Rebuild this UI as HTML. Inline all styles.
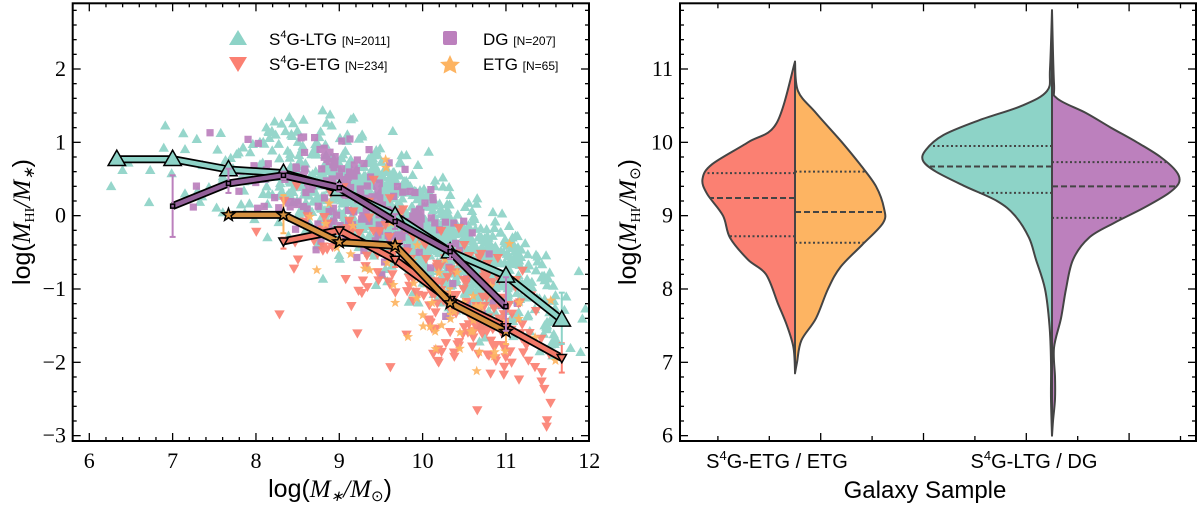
<!DOCTYPE html>
<html><head><meta charset="utf-8">
<style>
html,body{margin:0;padding:0;background:#fff;}
svg{display:block;}
.serif{font-family:"Liberation Serif",serif;}
.sans{font-family:"Liberation Sans",sans-serif;}
</style></head>
<body>
<svg id="fig" width="1200" height="507" viewBox="0 0 1200 507" xmlns="http://www.w3.org/2000/svg">
  <g id="left"></g>
  <g id="right"></g>
</svg>
<script>
// ---------- Left panel data ----------
const binX = [6.33, 7.0, 7.67, 8.33, 9.0, 9.67, 10.33, 11.0, 11.67];
const ltgMed = [0.77, 0.77, 0.63, 0.58, 0.36, 0.0, -0.49, -0.82, -1.42];
const ltgErrLo = [0.03, 0.03, 0.04, 0.04, 0.04, 0.05, 0.05, 0.06, 0.33];
const ltgErrHi = [0.03, 0.03, 0.04, 0.04, 0.04, 0.05, 0.05, 0.06, 0.37];
const dgMed = [null, 0.13, 0.44, 0.55, 0.38, -0.08, -0.49, -1.24, null];
const dgErrLo = [0, 0.42, 0.13, 0.05, 0.05, 0.1, 0.1, 0.33, 0];
const dgErrHi = [0, 0.42, 0.2, 0.05, 0.05, 0.1, 0.1, 0.4, 0];
const etgMed = [null, null, 0.01, 0.01, -0.36, -0.41, -1.19, -1.58, null];
const etgErrLo = [0, 0, 0.04, 0.25, 0.05, 0.06, 0.15, 0.17, 0];
const etgErrHi = [0, 0, 0.04, 0.27, 0.05, 0.06, 0.2, 0.15, 0];
const s4eMed = [null, null, null, -0.35, -0.2, -0.6, -1.15, -1.52, -1.94];
const s4eErrLo = [0, 0, 0, 0.1, 0.05, 0.1, 0.06, 0.06, 0.2];
const s4eErrHi = [0, 0, 0, 0.05, 0.05, 0.1, 0.06, 0.06, 0.2];

// scatter density per stellar-mass bin
const scatX = [6.2, 6.6, 7.0, 7.4, 7.8, 8.2, 8.6, 9.0, 9.4, 9.8, 10.2, 10.6, 11.0, 11.4, 11.8];
const ltgCounts = [2, 3, 6, 10, 22, 40, 85, 130, 160, 180, 190, 175, 120, 55, 8];
const dgCounts = [0, 0, 0, 3, 6, 12, 30, 45, 45, 30, 15, 8, 4, 0, 0];
const s4eCounts = [0, 0, 0, 0, 0, 3, 8, 15, 20, 30, 45, 55, 45, 15, 0];
const etgCounts = [0, 0, 0, 0, 0, 0, 3, 5, 6, 10, 14, 14, 9, 4, 0];

// ---------- Right panel data ----------
const violinCats = ["S⁴G-ETG / ETG", "S⁴G-LTG / DG"];
const redV = [11.1, 10.26, 10.0, 9.7, 9.5, 9.3, 9.0, 8.7, 8.4, 8.2, 7.8, 7.5, 7.2, 6.88];
const redW = [0, 18.5, 47, 83, 92.5, 88, 72, 65, 47, 29, 17, 8, 1.5, 0];
const orgV = [11.1, 10.7, 10.4, 10.0, 9.7, 9.4, 9.1, 8.9, 8.6, 8.3, 8.0, 7.6, 7.3, 7.0, 6.85];
const orgW = [0, 3, 21, 47, 65, 81, 89, 88, 67, 45.5, 33, 21, 6.4, 2, 0];
const tealV = [11.8, 11.0, 10.7, 10.5, 10.3, 10.1, 9.9, 9.75, 9.6, 9.4, 9.2, 9.0, 8.7, 8.4, 8.0, 7.5, 7.0, 6.5, 6.0];
const tealW = [0, 2, 5, 30, 73, 108.5, 126, 129, 116, 87, 55, 37, 23, 16, 7, 2.5, 1, 1, 0];
const purpV = [11.8, 10.8, 10.6, 10.4, 10.2, 10.0, 9.8, 9.6, 9.45, 9.3, 9.1, 8.9, 8.7, 8.4, 8.0, 7.6, 7.2, 6.8, 6.5, 6.2, 6.0];
const purpW = [0, 2, 5, 34, 59, 85, 108.5, 124.5, 127, 116, 91, 62, 37, 21, 14, 9, 2, 3, 3, 1, 0];
const redQ = [8.72, 9.24, 9.58];
const orgQ = [8.63, 9.05, 9.6];
const tealQ = [9.31, 9.67, 9.95];
const purpQ = [8.97, 9.40, 9.73];

const C = {teal:'#8dd3c7', red:'#fb8072', purp:'#bc80bd', org:'#fdb462'};
const NS = 'http://www.w3.org/2000/svg';
function mk(tag, attrs, parent){const e=document.createElementNS(NS,tag);for(const k in attrs)e.setAttribute(k,attrs[k]);parent.appendChild(e);return e;}

// ---------- LEFT ----------
const L = document.getElementById('left');
const xL = v => 89.3 + (v - 6) * 83.33;
const yL = v => 69 + (2 - v) * 73.33;
const LB = {x0:72.7, x1:589, y0:3.3, y1:441};

let seed = 12345;
function rnd(){seed = (seed * 1103515245 + 12345) % 2147483648; return seed / 2147483648;}
function gauss(){let u=rnd()||1e-6, v=rnd(); return Math.sqrt(-2*Math.log(u))*Math.cos(2*Math.PI*v);}
function interpMed(arr, x){
  const pts = []; for(let i=0;i<binX.length;i++) if(arr[i]!==null) pts.push([binX[i],arr[i]]);
  if(x<=pts[0][0]) return pts[0][1] + (x-pts[0][0])*(-0.2);
  if(x>=pts[pts.length-1][0]){const a=pts[pts.length-2],b=pts[pts.length-1];return b[1]+(x-b[0])*(b[1]-a[1])/(b[0]-a[0]);}
  for(let i=0;i<pts.length-1;i++){const a=pts[i],b=pts[i+1];if(x>=a[0]&&x<=b[0])return a[1]+(x-a[0])*(b[1]-a[1])/(b[0]-a[0]);}
}
function markerPath(type, cx, cy, s){
  if(type==='up'){return `M${cx},${cy-s*0.6} L${cx+s*0.58},${cy+s*0.42} L${cx-s*0.58},${cy+s*0.42}Z`;}
  if(type==='down'){return `M${cx},${cy+s*0.6} L${cx+s*0.58},${cy-s*0.42} L${cx-s*0.58},${cy-s*0.42}Z`;}
  if(type==='sq'){const h=s*0.4;return `M${cx-h},${cy-h} h${2*h} v${2*h} h${-2*h}Z`;}
  if(type==='star'){let d='';for(let i=0;i<10;i++){const r=i%2?s*0.25:s*0.6;const a=-Math.PI/2+i*Math.PI/5;d+=(i?'L':'M')+(cx+r*Math.cos(a)).toFixed(1)+','+(cy+r*Math.sin(a)).toFixed(1);}return d+'Z';}
}
const clip = mk('clipPath',{id:'lclip'},L);
mk('rect',{x:LB.x0,y:LB.y0,width:LB.x1-LB.x0,height:LB.y1-LB.y0},clip);
const scat = mk('g',{'clip-path':'url(#lclip)'},L);


function cloud(counts, med, sd, type, color, name){
  const g = mk('g',{fill:color,opacity:'0.92'},scat);
  
  
  let d='';
  for(let i=0;i<scatX.length;i++){
    for(let k=0;k<counts[i];k++){
      const x = scatX[i] + (rnd()-0.5)*0.4;
      const y = interpMed(med, x) + gauss()*sd;
      d += markerPath(type, xL(x), yL(y), 9);
    }
  }
  mk('path',{d:d},g);
}
cloud(ltgCounts, ltgMed, 0.37, 'up', C.teal, 'ltg-scatter');
cloud(dgCounts, dgMed, 0.35, 'sq', C.purp, 'dg-scatter');
cloud(s4eCounts, s4eMed, 0.45, 'down', C.red, 's4g-etg-scatter');
cloud(etgCounts, etgMed, 0.45, 'star', C.org, 'etg-scatter');

function medianLine(med, lo, hi, color, lineColor, type, name, msize){
  const g = mk('g',{},L);
  
  
  const pts=[]; for(let i=0;i<binX.length;i++) if(med[i]!==null) pts.push([xL(binX[i]), yL(med[i]), i]);
  const pstr = pts.map(p=>p[0].toFixed(1)+','+p[1].toFixed(1)).join(' ');
  mk('polyline',{points:pstr,fill:'none',stroke:'#000','stroke-width':8,'stroke-linejoin':'round'},g);
  mk('polyline',{points:pstr,fill:'none',stroke:lineColor,'stroke-width':4.5,'stroke-linejoin':'round'},g);
  pts.forEach(p=>{
    const i=p[2];
    const y1=yL(med[i]+hi[i]), y2=yL(med[i]-lo[i]);
    mk('line',{x1:p[0],x2:p[0],y1:y1,y2:y2,stroke:color,'stroke-width':2},g);
    mk('line',{x1:p[0]-3,x2:p[0]+3,y1:y1,y2:y1,stroke:color,'stroke-width':2},g);
    mk('line',{x1:p[0]-3,x2:p[0]+3,y1:y2,y2:y2,stroke:color,'stroke-width':2},g);
    mk('path',{d:markerPath(type,p[0],p[1],msize),fill:lineColor,stroke:'#000','stroke-width':1.5},g);
  });
}
medianLine(s4eMed, s4eErrLo, s4eErrHi, C.red, '#f07868', 'down', 's4g-etg-median-line', 8);
medianLine(etgMed, etgErrLo, etgErrHi, C.org, '#d69140', 'star', 'etg-median-line', 11);
medianLine(ltgMed, ltgErrLo, ltgErrHi, C.teal, C.teal, 'up', 'ltg-median-line', 15);
medianLine(dgMed, dgErrLo, dgErrHi, C.purp, '#93609a', 'sq', 'dg-median-line', 5);

function frame(parent, B, name){
  const r = mk('rect',{x:B.x0,y:B.y0,width:B.x1-B.x0,height:B.y1-B.y0,fill:'none',stroke:'#000','stroke-width':2},parent);
  
  
}
frame(L, LB, 'left-axes-frame');
const lt = mk('g',{stroke:'#000','stroke-width':1.3},L);


for(let k=0;k<=30;k++){const v=6+k*0.2;const x=xL(v);const len=(k%5===0)?8:4;
  mk('line',{x1:x,x2:x,y1:LB.y1,y2:LB.y1-len},lt);mk('line',{x1:x,x2:x,y1:LB.y0,y2:LB.y0+len},lt);}
for(let k=-16;k<=14;k++){const v=k*0.2;const y=yL(v);if(y<LB.y0||y>LB.y1)continue;const len=(k%5===0)?8:4;
  mk('line',{x1:LB.x0,x2:LB.x0+len,y1:y,y2:y},lt);mk('line',{x1:LB.x1,x2:LB.x1-len,y1:y,y2:y},lt);}
const xTicksL = [6,7,8,9,10,11,12];
const yTicksL = [-3,-2,-1,0,1,2];
xTicksL.forEach(v=>{const t=mk('text',{x:xL(v),y:468,'text-anchor':'middle','font-size':22,class:'serif'},L);t.textContent=v;
  });
yTicksL.forEach(v=>{const t=mk('text',{x:66,y:yL(v)+7,'text-anchor':'end','font-size':22,class:'serif'},L);t.textContent=(v<0?'−':'')+Math.abs(v);
  });

// ---------- RIGHT ----------
const R = document.getElementById('right');
const yR = v => 69 + (11 - v) * 73.33;
const xR = c => 795 + c * 257;
const RB = {x0:680, x1:1196, y0:3.3, y1:441};

function smoothPath(pts){
  let d = 'M'+pts[0][0].toFixed(1)+','+pts[0][1].toFixed(1);
  for(let i=0;i<pts.length-1;i++){
    const p0=pts[Math.max(0,i-1)],p1=pts[i],p2=pts[i+1],p3=pts[Math.min(pts.length-1,i+2)];
    const c1=[p1[0]+(p2[0]-p0[0])/6,p1[1]+(p2[1]-p0[1])/6];
    const c2=[p2[0]-(p3[0]-p1[0])/6,p2[1]-(p3[1]-p1[1])/6];
    d+=` C${c1[0].toFixed(1)},${c1[1].toFixed(1)} ${c2[0].toFixed(1)},${c2[1].toFixed(1)} ${p2[0].toFixed(1)},${p2[1].toFixed(1)}`;
  }
  return d;
}
function widthAt(vals, ws, v){
  for(let i=0;i<vals.length-1;i++){const a=vals[i],b=vals[i+1];if((v<=a&&v>=b)){const t=(a-v)/(a-b);return ws[i]+t*(ws[i+1]-ws[i]);}}
  return 0;
}
function half(cat, vals, ws, side, color, q, name){
  const g = mk('g',{},R);
  
  
  const cx = xR(cat);
  const pts = vals.map((v,i)=>[cx + side*ws[i], yR(v)]);
  const d = smoothPath(pts) + ` L${cx},${yR(vals[vals.length-1])} L${cx},${yR(vals[0])}Z`;
  mk('path',{d:d,fill:color,stroke:'#444','stroke-width':2,'stroke-linejoin':'round'},g);
  q.forEach((v,i)=>{
    const w = widthAt(vals, ws, v);
    mk('line',{x1:cx,x2:cx+side*w,y1:yR(v),y2:yR(v),stroke:'#444','stroke-width':2,
      'stroke-dasharray': i===1 ? '6,3' : '2,2.5'},g);
  });
  mk('line',{x1:cx,x2:cx,y1:yR(vals[0]),y2:yR(vals[vals.length-1]),stroke:'#444','stroke-width':2},g);
}
half(0, redV, redW, -1, C.red, redQ, 'violin-s4g-etg');
half(0, orgV, orgW, 1, C.org, orgQ, 'violin-etg');
half(1, tealV, tealW, -1, C.teal, tealQ, 'violin-s4g-ltg');
half(1, purpV, purpW, 1, C.purp, purpQ, 'violin-dg');

frame(R, RB, 'right-axes-frame');
const rt = mk('g',{stroke:'#000','stroke-width':1.3},R);


for(let k=-3;k<=15;k+=2){const c=k*0.1;const x=xR(c);const len=((k+1)%4===2)?8:5;
  mk('line',{x1:x,x2:x,y1:RB.y1,y2:RB.y1-len},rt);mk('line',{x1:x,x2:x,y1:RB.y0,y2:RB.y0+len},rt);}
for(let k=29;k<=60;k++){const v=k*0.2;const y=yR(v);if(y<RB.y0||y>RB.y1)continue;const len=(k%5===0)?8:4;
  mk('line',{x1:RB.x0,x2:RB.x0+len,y1:y,y2:y},rt);mk('line',{x1:RB.x1,x2:RB.x1-len,y1:y,y2:y},rt);}
const yTicksR = [6,7,8,9,10,11];
yTicksR.forEach(v=>{const t=mk('text',{x:673,y:yR(v)+7,'text-anchor':'end','font-size':22,class:'serif'},R);t.textContent=v;
  });
violinCats.forEach((c,i)=>{const t=mk('text',{x:xR(i)-18,y:468,'text-anchor':'middle','font-size':20,class:'sans'},R);
  t.innerHTML = c.replace('⁴','<tspan dy="-8" font-size="13">4</tspan><tspan dy="8">')+'</tspan>';
  });
</script>
<svg width="1200" height="507" style="position:absolute;left:0;top:0;pointer-events:none" xmlns="http://www.w3.org/2000/svg">
  <g font-family="Liberation Sans, sans-serif">
    <path d="M238,30 L247,45 L229,45Z" fill="#8dd3c7"/>
    <text x="269" y="45" font-size="17">S<tspan dy="-7" font-size="11">4</tspan><tspan dy="7">G-LTG </tspan><tspan font-size="12">[N=2011]</tspan></text>
    <path d="M238,72 L247,57 L229,57Z" fill="#fb8072"/>
    <text x="269" y="70" font-size="17">S<tspan dy="-7" font-size="11">4</tspan><tspan dy="7">G-ETG </tspan><tspan font-size="12">[N=234]</tspan></text>
    <rect x="443" y="31" width="14" height="14" rx="2" fill="#bc80bd"/>
    <text x="483" y="45" font-size="17">DG <tspan font-size="12">[N=207]</tspan></text>
    <path d="M450,55 L453,61.5 L460,62 L455,66.5 L456.5,73.5 L450,70 L443.5,73.5 L445,66.5 L440,62 L447,61.5Z" fill="#fdb462"/>
    <text x="483" y="70" font-size="17">ETG <tspan font-size="12">[N=65]</tspan></text>
  </g>
  <text x="330" y="497" text-anchor="middle" font-size="25" font-family="Liberation Serif, serif"><tspan font-family="Liberation Sans, sans-serif">log(</tspan><tspan font-style="italic">M</tspan><tspan font-size="15" dy="4" font-style="italic">∗</tspan><tspan dy="-4" font-style="italic">/M</tspan><tspan font-size="15" dy="4">⊙</tspan><tspan dy="-4" font-family="Liberation Sans, sans-serif">)</tspan></text>
  <text transform="translate(30,222) rotate(-90)" text-anchor="middle" font-size="25" font-family="Liberation Serif, serif"><tspan font-family="Liberation Sans, sans-serif">log(</tspan><tspan font-style="italic">M</tspan><tspan font-size="14" dy="4">HI</tspan><tspan dy="-4" font-style="italic">/M</tspan><tspan font-size="15" dy="4" font-style="italic">∗</tspan><tspan dy="-4" font-family="Liberation Sans, sans-serif">)</tspan></text>
  <text transform="translate(636,222) rotate(-90)" text-anchor="middle" font-size="25" font-family="Liberation Serif, serif"><tspan font-family="Liberation Sans, sans-serif">log(</tspan><tspan font-style="italic">M</tspan><tspan font-size="14" dy="4">HI</tspan><tspan dy="-4" font-style="italic">/M</tspan><tspan font-size="15" dy="4">⊙</tspan><tspan dy="-4" font-family="Liberation Sans, sans-serif">)</tspan></text>
  <text x="925" y="498" text-anchor="middle" font-size="24" font-family="Liberation Sans, sans-serif">Galaxy Sample</text>
</svg>
</body></html>
